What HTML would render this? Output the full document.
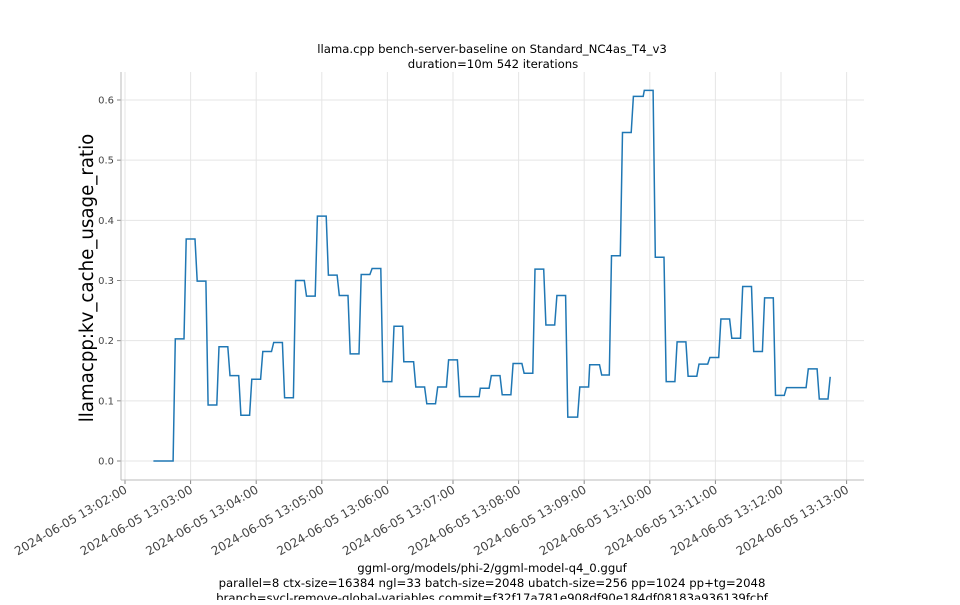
<!DOCTYPE html>
<html><head><meta charset="utf-8"><style>
body{margin:0;background:#fff}
svg text{font-family:"DejaVu Sans","Liberation Sans",sans-serif}
</style></head><body>
<svg width="960" height="600" xmlns="http://www.w3.org/2000/svg">
<g id="grid"></g>
<g id="axes"></g>
<path id="line" fill="none" stroke="#1f77b4" stroke-width="1.5"/>
<text x="492" y="53" text-anchor="middle" font-size="11.7" fill="#000">llama.cpp bench-server-baseline on Standard_NC4as_T4_v3</text>
<text x="493" y="68" text-anchor="middle" font-size="11.7" fill="#000">duration=10m 542 iterations</text>
<text transform="translate(93,278) rotate(-90)" text-anchor="middle" font-size="18.2" fill="#000">llamacpp:kv_cache_usage_ratio</text>
<text x="492" y="572" text-anchor="middle" font-size="11.7" fill="#000">ggml-org/models/phi-2/ggml-model-q4_0.gguf</text>
<text x="492" y="587" text-anchor="middle" font-size="11.7" fill="#000">parallel=8 ctx-size=16384 ngl=33 batch-size=2048 ubatch-size=256 pp=1024 pp+tg=2048</text>
<text x="492" y="602" text-anchor="middle" font-size="11.7" fill="#000">branch=sycl-remove-global-variables commit=f32f17a781e908df90e184df08183a936139fcbf</text>
</svg>
<script>
const startSec=[26,46,56,66,76,86,96,106,116,126,136,146,156,166,176,186,196,206,216,226,236,246,255,266,276,286,296,306,325,335,345,355,365,375,385,395,405,416,425,436,445,455,465,475,485,495,505,515,525,535,545,555,565,575,585,595,605,625,635,645];
const endSec=[44,54,64,74,84,94,104,114,124,134,144,154,164,174,184,194,204,214,224,234,244,254,264,274,284,294,304,324,333,343,353,363,373,383,393,403,414,424,434,443,453,463,474,483,493,503,513,523,533,543,553,563,573,583,593,603,623,633,643,645];
const values=[0,0.203,0.369,0.299,0.093,0.19,0.142,0.076,0.136,0.182,0.197,0.105,0.30,0.274,0.407,0.309,0.275,0.178,0.31,0.32,0.132,0.224,0.165,0.123,0.095,0.123,0.168,0.107,0.121,0.142,0.11,0.162,0.146,0.319,0.226,0.275,0.073,0.123,0.16,0.143,0.341,0.546,0.606,0.616,0.3385,0.132,0.198,0.141,0.161,0.172,0.236,0.204,0.29,0.182,0.271,0.109,0.122,0.153,0.103,0.14];
const yTicks=[0,0.1,0.2,0.3,0.4,0.5,0.6];
const yTickLabels=["0.0","0.1","0.2","0.3","0.4","0.5","0.6"];
const xTickMin=[0,1,2,3,4,5,6,7,8,9,10,11];
const xTickLabels=["2024-06-05 13:02:00","2024-06-05 13:03:00","2024-06-05 13:04:00","2024-06-05 13:05:00","2024-06-05 13:06:00","2024-06-05 13:07:00","2024-06-05 13:08:00","2024-06-05 13:09:00","2024-06-05 13:10:00","2024-06-05 13:11:00","2024-06-05 13:12:00","2024-06-05 13:13:00"];
const NS="http://www.w3.org/2000/svg";
const L=121,R=864,T=72,B=480;
function xs(sec){return 125+sec*65.6/60;}
function ys(v){return 461-v*601.7;}
const grid=document.getElementById('grid'),axes=document.getElementById('axes');
function mk(tag,attrs,parent){const e=document.createElementNS(NS,tag);for(const k in attrs)e.setAttribute(k,attrs[k]);parent.appendChild(e);return e;}
yTicks.forEach((v,i)=>{
  const g=mk('line',{x1:L,x2:R,y1:ys(v),y2:ys(v),stroke:'#e5e5e5','stroke-width':1},grid);
  
  
  const t=mk('line',{x1:L-4,x2:L,y1:ys(v),y2:ys(v),stroke:'#888'},axes);
  
  
  const tx=mk('text',{x:L-7,y:ys(v)+3.5,'text-anchor':'end','font-size':10,fill:'#444'},axes);
  tx.textContent=yTickLabels[i];
  
  
});
xTickMin.forEach((m,i)=>{
  const x=xs(m*60);
  const g=mk('line',{x1:x,x2:x,y1:T,y2:B,stroke:'#e5e5e5','stroke-width':1},grid);
  
  
  const t=mk('line',{x1:x,x2:x,y1:B,y2:B+4,stroke:'#888'},axes);
  
  
  const tx=mk('text',{transform:`translate(${x+3},${B+12}) rotate(-30)`,'text-anchor':'end','font-size':12,fill:'#444'},axes);
  tx.textContent=xTickLabels[i];
  
  
});
const ax1=mk('line',{x1:L,x2:L,y1:T,y2:B,stroke:'#bbb'},axes);


const ax2=mk('line',{x1:L,x2:R,y1:B,y2:B,stroke:'#bbb'},axes);


let d='';
values.forEach((v,i)=>{
  d+=(i?'L':'M')+xs(startSec[i]).toFixed(1)+','+ys(v).toFixed(1);
  d+='L'+xs(endSec[i]).toFixed(1)+','+ys(v).toFixed(1);
});
document.getElementById('line').setAttribute('d',d);
</script>
</body></html>
